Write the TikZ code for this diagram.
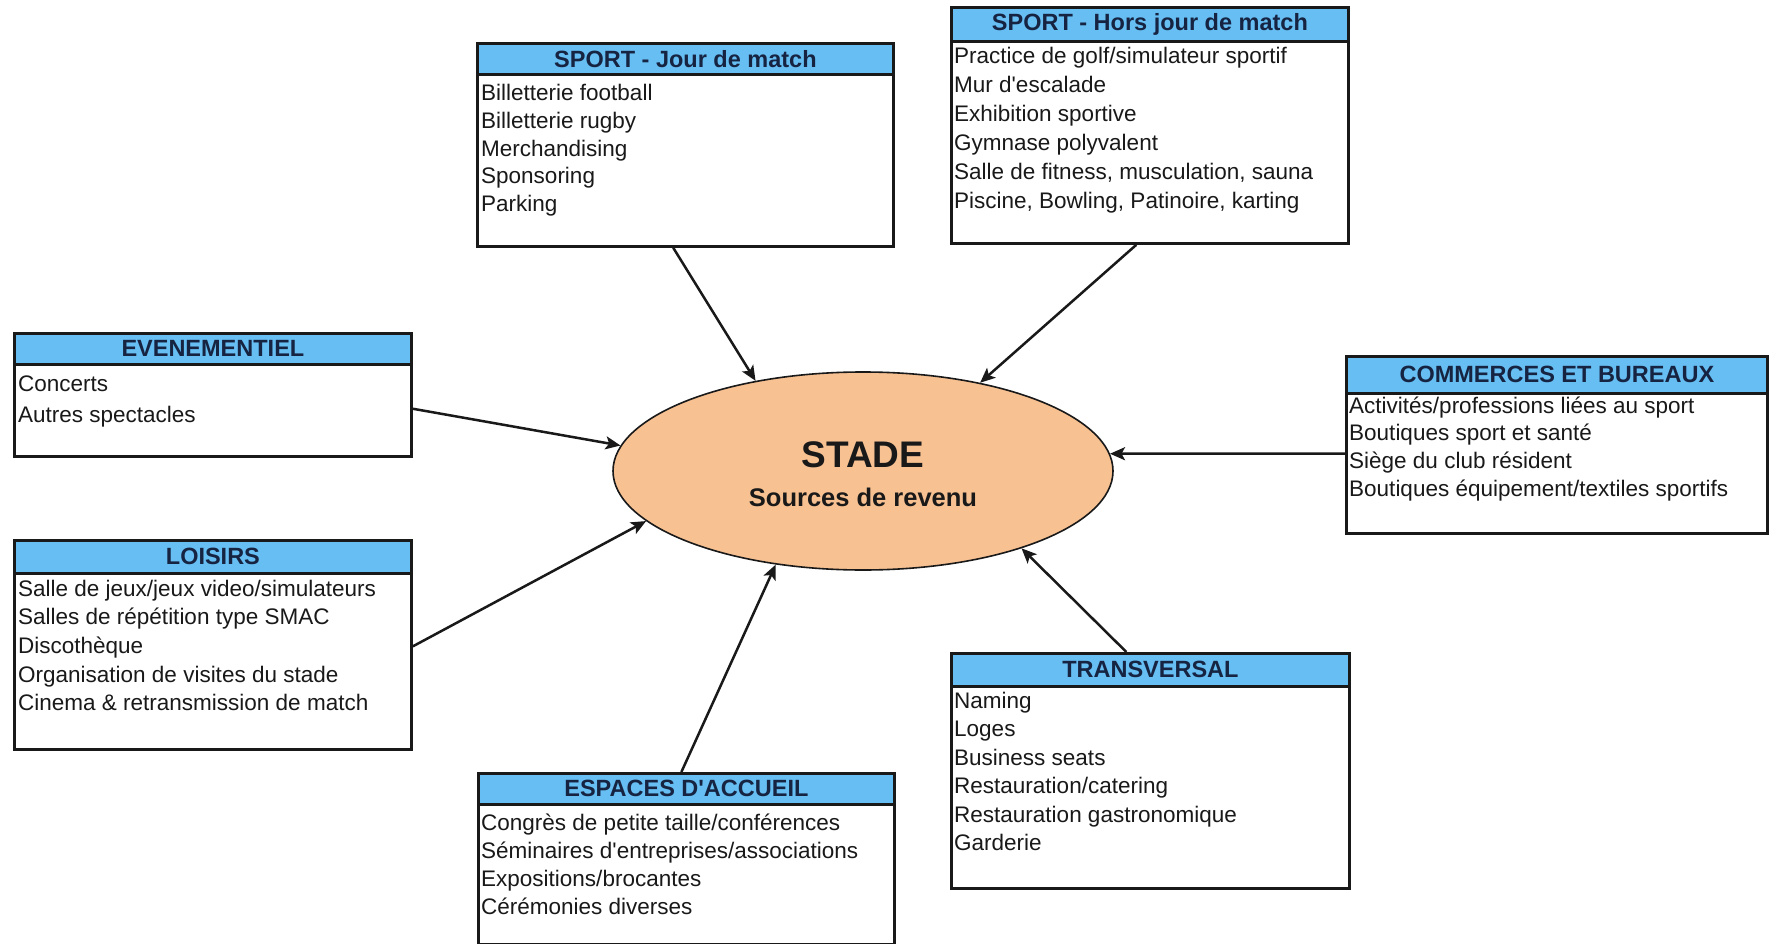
\documentclass[tikz,border=0pt]{standalone}
\usepackage{fontspec}
\setmainfont{Liberation Sans}
\usetikzlibrary{arrows.meta,calc,shapes.geometric}
\definecolor{headblue}{RGB}{102,190,243}
\definecolor{navy}{RGB}{22,36,66}
\definecolor{peach}{RGB}{247,193,146}
\definecolor{bord}{RGB}{25,25,25}
\definecolor{txt}{RGB}{25,25,25}
\tikzset{
  boxframe/.style={draw=bord, line width=2.8pt, fill=white, inner sep=0pt, anchor=north west},
  headbar/.style={draw=bord, line width=2.8pt, fill=headblue, inner sep=0pt, anchor=north west,
    font=\fontsize{23.5}{28}\selectfont\bfseries, text=navy},
  item/.style={anchor=base west, inner sep=0pt, font=\fontsize{22.5}{27}\selectfont, text=txt},
  arr/.style={draw=bord, line width=2.5pt, -{Stealth[length=15pt,width=13pt,inset=3.5pt]}},
}
\begin{document}
\begin{tikzpicture}[x=1pt,y=-1pt]
\useasboundingbox[fill=white] (0,0) rectangle (1769,944);

% central ellipse
\node[ellipse, draw=bord, line width=1.6pt, fill=peach, minimum width=500pt, minimum height=198pt, inner sep=0pt] (st) at (863,471) {};
\node[anchor=base, inner sep=0pt, font=\fontsize{37}{40}\selectfont\bfseries, text=txt] (stt) at (863,467) {STADE};
\node[anchor=base, inner sep=0pt, font=\fontsize{25.5}{30}\selectfont\bfseries, text=txt] (sts) at (863,506) {Sources de revenu};

% SPORT - Jour de match
\node[boxframe, minimum width=416pt, minimum height=203pt] (sj) at (476,42) {};
\node[headbar, minimum width=416pt, minimum height=31pt] (sjh) at (476,42) {SPORT - Jour de match};
\foreach \t [count=\i] in {Billetterie football,Billetterie rugby,Merchandising,Sponsoring,Parking}
  \node[item] (sj-\i) at (481,{101+27.6*(\i-1)}) {\t};

% SPORT - Hors jour de match
\node[boxframe, minimum width=397pt, minimum height=236pt] (sh) at (950,6) {};
\node[headbar, minimum width=397pt, minimum height=34pt] (shh) at (950,6) {SPORT - Hors jour de match};
\foreach \t [count=\i] in {Practice de golf/simulateur sportif,Mur d\textquotesingle escalade,Exhibition sportive,Gymnase polyvalent,{Salle de fitness, musculation, sauna},{Piscine, Bowling, Patinoire, karting}}
  \node[item] (sh-\i) at (954,{64+29*(\i-1)}) {\t};

% EVENEMENTIEL
\node[boxframe, minimum width=397pt, minimum height=123pt] (ev) at (13,332) {};
\node[headbar, minimum width=397pt, minimum height=31pt] (evh) at (13,332) {EVENEMENTIEL};
\foreach \t [count=\i] in {Concerts,Autres spectacles}
  \node[item] (ev-\i) at (18,{391+31*(\i-1)}) {\t};

% LOISIRS
\node[boxframe, minimum width=397pt, minimum height=209pt] (lo) at (13,539) {};
\node[headbar, minimum width=397pt, minimum height=33pt] (loh) at (13,539) {LOISIRS};
\foreach \t [count=\i] in {Salle de jeux/jeux video/simulateurs,Salles de répétition type SMAC,Discothèque,Organisation de visites du stade,Cinema \& retransmission de match}
  \node[item] (lo-\i) at (18,{596+28.7*(\i-1)}) {\t};

% COMMERCES ET BUREAUX
\node[boxframe, minimum width=421pt, minimum height=177pt] (co) at (1345,355) {};
\node[headbar, minimum width=421pt, minimum height=37pt] (coh) at (1345,355) {COMMERCES ET BUREAUX};
\foreach \t [count=\i] in {Activités/professions liées au sport,Boutiques sport et santé,Siège du club résident,Boutiques équipement/textiles sportifs}
  \node[item] (co-\i) at (1349,{413+27.7*(\i-1)}) {\t};

% TRANSVERSAL
\node[boxframe, minimum width=398pt, minimum height=235pt] (tr) at (950,652) {};
\node[headbar, minimum width=398pt, minimum height=33pt] (trh) at (950,652) {TRANSVERSAL};
\foreach \t [count=\i] in {Naming,Loges,Business seats,Restauration/catering,Restauration gastronomique,Garderie}
  \node[item] (tr-\i) at (954,{708+28.5*(\i-1)}) {\t};

% ESPACES D'ACCUEIL
\node[boxframe, minimum width=416pt, minimum height=171pt] (ea) at (477,772) {};
\node[headbar, minimum width=416pt, minimum height=31pt] (eah) at (477,772) {ESPACES D\textquotesingle ACCUEIL};
\foreach \t [count=\i] in {Congrès de petite taille/conférences,Séminaires d\textquotesingle entreprises/associations,Expositions/brocantes,Cérémonies diverses}
  \node[item] (ea-\i) at (481,{830+28*(\i-1)}) {\t};

% connectors
\draw[arr] ($(sj.south west)!0.471!(sj.south east)$) -- (st.140.4);
\draw[arr] ($(sh.south west)!0.466!(sh.south east)$) -- (st.37.9);
\draw[arr] ($(ev.north east)!0.61!(ev.south east)$) -- (st.174.7);
\draw[arr] ($(lo.north east)!0.507!(lo.south east)$) -- (st.193.3);
\draw[arr] ($(eah.north west)!0.488!(eah.north east)$) -- (st.227.5);
\draw[arr] ($(trh.north west)!0.44!(trh.north east)$) -- (st.334.3);
\draw[arr] ($(co.north west)!0.548!(co.south west)$) -- (st.4.3);
\end{tikzpicture}
\end{document}
